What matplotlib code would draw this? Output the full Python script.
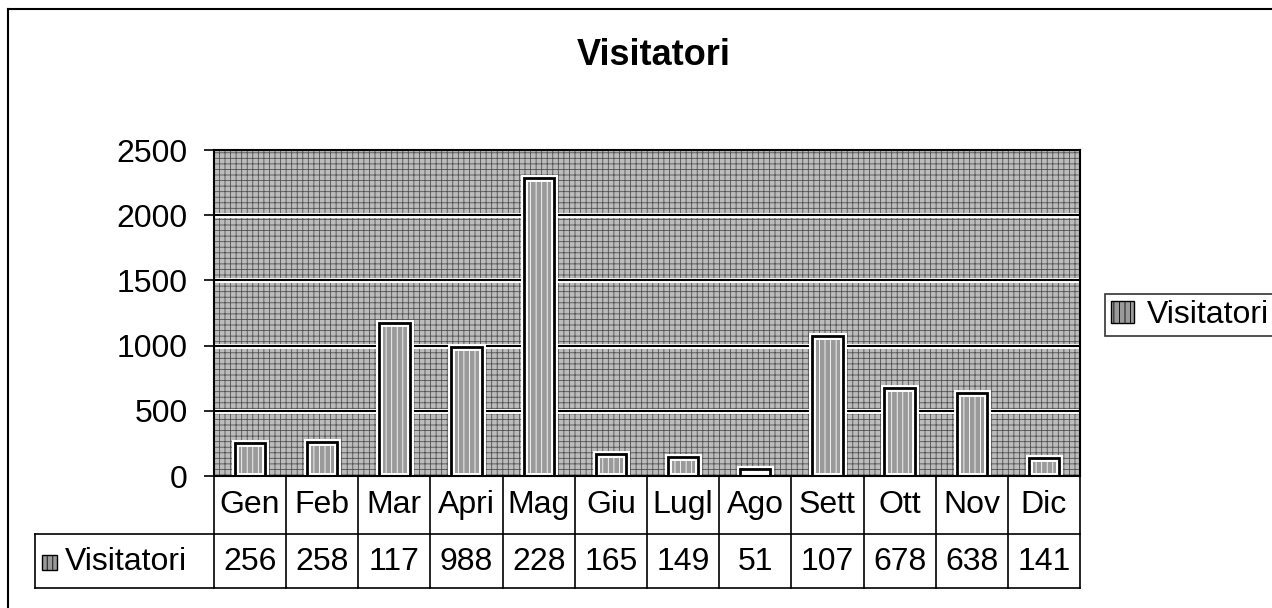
import matplotlib.pyplot as plt
from matplotlib.patches import Rectangle
from matplotlib.transforms import blended_transform_factory
from matplotlib.lines import Line2D

plt.rcParams["font.family"] = ["Liberation Sans", "DejaVu Sans"]
plt.rcParams["hatch.linewidth"] = 0.6

mesi = ["Gen", "Feb", "Mar", "Apri", "Mag", "Giu", "Lugl", "Ago", "Sett", "Ott", "Nov", "Dic"]
visitatori = [256, 258, 1172, 988, 2282, 165, 149, 51, 1072, 678, 638, 141]
# nella tabella originale si vedono solo le prime tre cifre
etichette_tabella = [str(v)[:3] for v in visitatori]
tick_y = [0, 500, 1000, 1500, 2000, 2500]

FS = 23
SFONDO = "#bcbcbc"
BARRA = "#9a9a9a"

fig = plt.figure(figsize=(12.72, 6.08), dpi=100)
ax = fig.add_axes([214 / 1272, 1 - 476 / 608, 866 / 1272, 326 / 608])
ax.set_xlim(-0.5, len(mesi) - 0.5)
ax.set_ylim(0, 2500)

# * sfondo "retinato" dell'area del grafico
ax.add_patch(Rectangle((0, 0), 1, 1, transform=ax.transAxes, facecolor=SFONDO,
                       edgecolor="#505050", hatch="+++", lw=0, zorder=0))

# * griglia doppia (bianca + nera)
for v in tick_y[1:-1]:
    ax.axhline(v, color="white", lw=3.5, zorder=1)
    ax.axhline(v, color="black", lw=1.5, zorder=1.2)

x = list(range(len(mesi)))
ax.bar(x, visitatori, width=0.42, facecolor=BARRA, edgecolor="white", lw=5,
       hatch="|||", zorder=2)
ax.bar(x, visitatori, width=0.42, facecolor="none", edgecolor="black", lw=2, zorder=3)

ax.set_yticks(tick_y)
ax.tick_params(axis="y", labelsize=FS, length=7, width=1.2, pad=12, direction="out")
ax.set_xticks([])
for s in ax.spines.values():
    s.set_color("black")
    s.set_linewidth(1.5)
    s.set_zorder(4)

# * tabella dei dati sotto l'asse
tr = blended_transform_factory(ax.transData, ax.transAxes)
y_riga = -0.178
y_fondo = -0.344
x_etichetta = -2.98
for i in range(len(mesi) + 1):
    ax.plot([i - 0.5, i - 0.5], [0, y_fondo], transform=tr, color="black",
            lw=1.2, clip_on=False)
for yy in (y_riga, y_fondo):
    ax.plot([x_etichetta, len(mesi) - 0.5], [yy, yy], transform=tr, color="black",
            lw=1.2, clip_on=False)
ax.plot([x_etichetta, x_etichetta], [y_riga, y_fondo], transform=tr, color="black",
        lw=1.2, clip_on=False)

for i, (m, t) in enumerate(zip(mesi, etichette_tabella)):
    ax.text(i, -0.089, m, transform=tr, ha="center", va="center", fontsize=FS)
    ax.text(i, -0.265, t, transform=tr, ha="center", va="center", fontsize=FS)

ax.add_patch(Rectangle((-2.88, -0.288), 0.21, 0.047, transform=tr, facecolor=BARRA,
                       edgecolor="black", hatch="|||", lw=1, clip_on=False))
ax.text(-2.56, -0.265, "Visitatori", transform=tr, ha="left", va="center", fontsize=FS)

# * titolo e legenda
fig.text(654 / 1272, 1 - 65 / 608, "Visitatori", ha="center", va="baseline",
         fontsize=26, fontweight="bold")
leg = ax.legend([Rectangle((0, 0), 1, 1, facecolor=BARRA, edgecolor="black", hatch="|||")],
                ["Visitatori"], loc="center left", bbox_to_anchor=(1105 / 1272, 1 - 315 / 608),
                bbox_transform=fig.transFigure, fontsize=FS, frameon=True, fancybox=False,
                handlelength=0.7, handleheight=0.7, handletextpad=0.4, borderpad=0.2,
                borderaxespad=0)
leg.get_frame().set_edgecolor("black")
leg.get_frame().set_linewidth(1.2)

# * cornice esterna (solo lati sinistro e superiore visibili)
fig.add_artist(Line2D([8 / 1272, 8 / 1272], [0, 1 - 9 / 608], transform=fig.transFigure,
                      color="black", lw=1.5))
fig.add_artist(Line2D([8 / 1272, 1], [1 - 9 / 608, 1 - 9 / 608], transform=fig.transFigure,
                      color="black", lw=1.5))

plt.savefig("out.png", dpi=100)
